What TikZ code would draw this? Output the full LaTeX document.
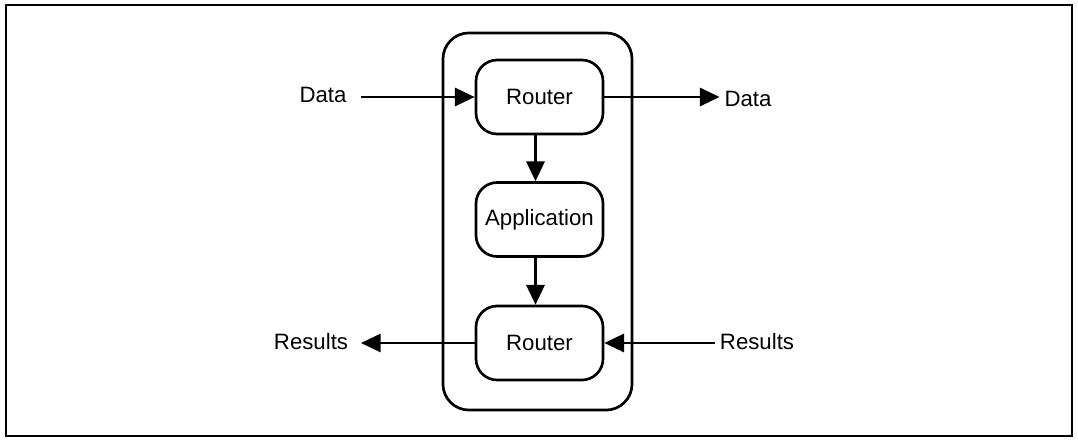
\documentclass[tikz,border=0pt]{standalone}
\usepackage{fontspec}
\setmainfont{Liberation Sans}
\usetikzlibrary{arrows.meta,positioning}

\begin{document}
\begin{tikzpicture}[
    x=0.025cm, y=-0.025cm,
    every node/.style={text centered, font=\fontsize{15.8}{18}\selectfont},
    box/.style={draw, line width=1.9pt, rounded corners=0.53cm, minimum width=3.175cm, minimum height=1.85cm},
    flow/.style={draw, line width=1.5pt, -{Triangle[length=14pt,width=13pt]}}
]
\useasboundingbox (0,0) rectangle (1078,441);
\draw[line width=1.1pt] (6,5) rectangle (1072,436);

% node holding the three stages
\node[draw, line width=1.9pt, rounded corners=0.65cm, minimum width=4.725cm, minimum height=9.425cm] (host) at (537.5,221.5) {};

\node[box] (routerin) at (539.5,97) {Router};
\node[box] (app) at (539.5,219.5) {Application};
\node[box] (routerout) at (539.5,343) {Router};

\node (datain) at (323,95) {Data};
\node (dataout) at (748,99) {Data};
\node (resout) at (311,342) {Results};
\node (resin) at (757,342) {Results};

\draw[flow] ([xshift=-0.1cm]routerin.south) -- ([xshift=-0.1cm]app.north);
\draw[flow] ([xshift=-0.1cm]app.south) -- ([xshift=-0.1cm]routerout.north);

\draw[flow, shorten <=0.25cm] (datain.east |- routerin.west) -- (routerin.west);
\draw[flow] (routerin.east) -- (routerin.east -| dataout.west);
\draw[flow, shorten >=0.2cm] (routerout.west) -- (routerout.west -| resout.east);
\draw[flow] (resin.west |- routerout.east) -- (routerout.east);
\end{tikzpicture}
\end{document}
